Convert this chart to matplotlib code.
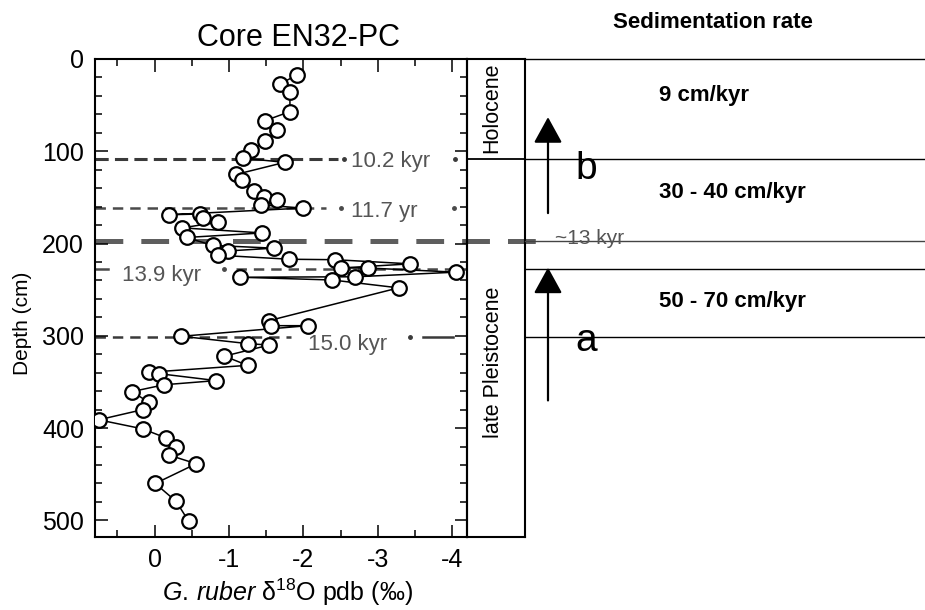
import matplotlib
matplotlib.use("Agg")
import matplotlib.pyplot as plt

plt.rcParams['font.family'] = ['Liberation Sans', 'DejaVu Sans']
plt.rcParams['mathtext.fontset'] = 'custom'
plt.rcParams['mathtext.rm'] = 'Liberation Sans'
plt.rcParams['mathtext.it'] = 'Liberation Sans:italic'

# ---------------- data ----------------
d18O = [-1.92, -1.69, -1.82, -1.82, -1.48, -1.65, -1.48, -1.30, -1.19, -1.75,
        -1.10, -1.18, -1.34, -1.47, -1.65, -1.43, -1.99, -0.19, -0.61, -0.65,
        -0.85, -0.37, -1.45, -0.43, -0.78, -1.60, -0.99, -0.85, -1.81, -2.43,
        -3.44, -2.50, -2.87, -4.05, -2.70, -1.15, -2.39, -3.28, -1.54, -1.57,
        -2.06, -0.36, -1.25, -1.54, -0.94, -1.25, 0.08, -0.06, -0.83, -0.13,
        0.30, 0.08, 0.16, 0.75, 0.16, -0.15, -0.29, -0.20, -0.56, -0.01,
        -0.29, -0.46]
depth = [17, 27, 36, 57, 67, 77, 89, 99, 107.5, 112,
         125, 131, 143, 150, 153, 158, 161.6, 168.8, 168, 171.8,
         177, 183, 188.5, 193.4, 202, 205, 208, 212.6, 217, 217.5,
         222, 226.5, 226.5, 231, 236, 236.5, 239.5, 248, 283.5, 289,
         289, 300.5, 308.4, 310, 322, 332, 339.5, 341, 348.5, 353,
         360.4, 372, 380, 391, 400.8, 410.5, 420, 429.4, 438.6, 460,
         479.4, 501]

xticks = [0, -1, -2, -3, -4]
xtick_labels = ['0', '-1', '-2', '-3', '-4']
yticks = [0, 100, 200, 300, 400, 500]

age_labels = ['10.2 kyr', '11.7 yr', '~13 kyr', '13.9 kyr', '15.0 kyr']
age_depths = [108, 161, 197, 228, 301.5]

epochs = ['Holocene', 'late Pleistocene']
epoch_boundary = 108

sed_rates = ['9 cm/kyr', '30 - 40 cm/kyr', '50 - 70 cm/kyr']
sed_bounds = [0, 108, 197, 228, 301.5]

# ---------------- figure ----------------
W, H = 925, 610
fig = plt.figure(figsize=(W / 100, H / 100), dpi=100)


def rect(x0, y0, x1, y1):
    return [x0 / W, 1 - y1 / H, (x1 - x0) / W, (y1 - y0) / H]


def px2v(px):
    # horizontal pixel -> d18O value on main axis
    return (153 - px) / 74.75


TOP, BOT = 59, 537
ax = fig.add_axes(rect(95, TOP, 467, BOT))
ax.set_xlim(0.8, -4.2)
ax.set_ylim(518, 0)

# dashed age lines
c1, c2, c3 = '#3a3a3a', '#4a4a4a', '#5e5e5e'
lw1 = 2.2
ax.plot([0.8, px2v(337)], [age_depths[0]] * 2, color=c1, lw=lw1,
        dashes=(9.5 / lw1, 4.5 / lw1), zorder=1)
ax.plot([px2v(343), px2v(455)], [age_depths[0]] * 2, ls='none', marker='o',
        ms=2.5, color=c1, zorder=1)
lw2 = 1.8
ax.plot([0.8, px2v(325)], [age_depths[1]] * 2, color=c2, lw=lw2,
        dashes=(7.5 / lw2, 5 / lw2), zorder=1)
ax.plot([px2v(340), px2v(454)], [age_depths[1]] * 2, ls='none', marker='o',
        ms=2.5, color=c2, zorder=1)
lw3 = 3.6
ax.plot([0.8, px2v(540)], [age_depths[2]] * 2, color=c3, lw=lw3,
        dashes=(20 / lw3, 13 / lw3), zorder=1, clip_on=False)
ax.plot([0.8, px2v(106)], [age_depths[3]] * 2, color=c2, lw=lw2, zorder=1)
ax.plot([px2v(235), -4.2], [age_depths[3]] * 2, color=c2, lw=lw2,
        dashes=(7.5 / lw2, 5 / lw2), zorder=1)
ax.plot([px2v(223)], [age_depths[3]], ls='none', marker='o', ms=2.5,
        color=c2, zorder=1)
ax.plot([0.8, px2v(290)], [age_depths[4]] * 2, color=c1, lw=lw2,
        dashes=(7.5 / lw2, 5 / lw2), zorder=1)
ax.plot([px2v(423), px2v(453)], [age_depths[4]] * 2, color=c1, lw=lw2,
        zorder=1)
ax.plot([px2v(410)], [age_depths[4]], ls='none', marker='o', ms=2.5,
        color=c1, zorder=1)

tc = '#555555'
ax.text(px2v(350), 117, age_labels[0], color=tc, fontsize=16, va='baseline')
ax.text(px2v(350), 171, age_labels[1], color=tc, fontsize=16, va='baseline')
ax.text(px2v(120), 240.5, age_labels[3], color=tc, fontsize=16, va='baseline')
ax.text(px2v(307), 315.5, age_labels[4], color=tc, fontsize=16, va='baseline')

# data
ax.plot(d18O, depth, color='black', lw=1.1, marker='o', ms=10.5,
        mfc='white', mec='black', mew=1.6, zorder=3)

ax.set_xticks(xticks)
ax.set_xticklabels(xtick_labels)
ax.set_xticks([0.5, -0.5, -1.5, -2.5, -3.5], minor=True)
ax.set_yticks(yticks)
ax.set_yticks(list(range(0, 520, 20)), minor=True)
ax.tick_params(which='both', direction='in', top=True, right=True,
               width=1.1, labelsize=18)
ax.tick_params(which='major', length=9)
ax.tick_params(which='minor', length=5)
ax.tick_params(axis='y', pad=8)
ax.tick_params(axis='x', pad=8)
for s in ax.spines.values():
    s.set_linewidth(1.5)

ax.set_title('Core EN32-PC', fontsize=22, pad=9, x=0.546)
ax.set_xlabel(r'$\mathit{G.\,ruber}$ δ$^{\mathrm{18}}$O pdb (‰)', fontsize=18)
ax.xaxis.label.set_va('center')
ax.xaxis.set_label_coords((287 - 95) / 372, (BOT - 592) / (BOT - TOP))
ax.set_ylabel('Depth (cm)', fontsize=15)
ax.yaxis.label.set_va('center')
ax.yaxis.set_label_coords((22 - 95) / 372, (BOT - 323) / (BOT - TOP))

# epoch column
axc = fig.add_axes(rect(467, TOP, 525, BOT))
axc.set_facecolor('none')
axc.set_xlim(0, 1)
axc.set_ylim(518, 0)
axc.set_xticks([])
axc.set_yticks([])
for s in axc.spines.values():
    s.set_linewidth(1.5)
axc.axhline(epoch_boundary, color='black', lw=1.3)
axc.text(0.43, 53, epochs[0], rotation=90, ha='center', va='center',
         fontsize=15.5)
axc.text(0.45, 329, epochs[1], rotation=90, ha='center', va='center',
         fontsize=15.5)

# sedimentation-rate panel
axr = fig.add_axes(rect(525, TOP, 925, BOT))
axr.set_facecolor('none')
axr.set_axis_off()
axr.set_xlim(0, 1)
axr.set_ylim(518, 0)
for b in sed_bounds:
    col = '#444444' if b == age_depths[2] else 'black'
    axr.plot([0, 1], [b, b], color=col, lw=1.0, clip_on=False)


def fxr(px):
    return (px - 525) / 400


axr.text(fxr(713), -33.3, 'Sedimentation rate', ha='center', va='baseline',
         fontsize=16, fontweight='bold', clip_on=False)
for lab, d in zip(sed_rates, [45.5, 150.6, 268.7]):
    axr.text(fxr(659), d, lab, ha='left', va='baseline', fontsize=16,
             fontweight='bold')
axr.text(fxr(555), 200.4, age_labels[2], ha='left', va='baseline',
         fontsize=15, color=tc)
axr.text(fxr(586), 130, 'b', ha='center', va='baseline', fontsize=28)
axr.text(fxr(586), 316.4, 'a', ha='center', va='baseline', fontsize=28)

ap = dict(arrowstyle='-|>,head_length=1.0,head_width=0.55', lw=1.6,
          color='black', mutation_scale=16, shrinkA=0, shrinkB=0)
axr.annotate('', xy=(fxr(548), 63), xytext=(fxr(548), 167), arrowprops=ap)
axr.annotate('', xy=(fxr(548), 226), xytext=(fxr(548), 370), arrowprops=ap)

fig.savefig('out.png', dpi=100)
